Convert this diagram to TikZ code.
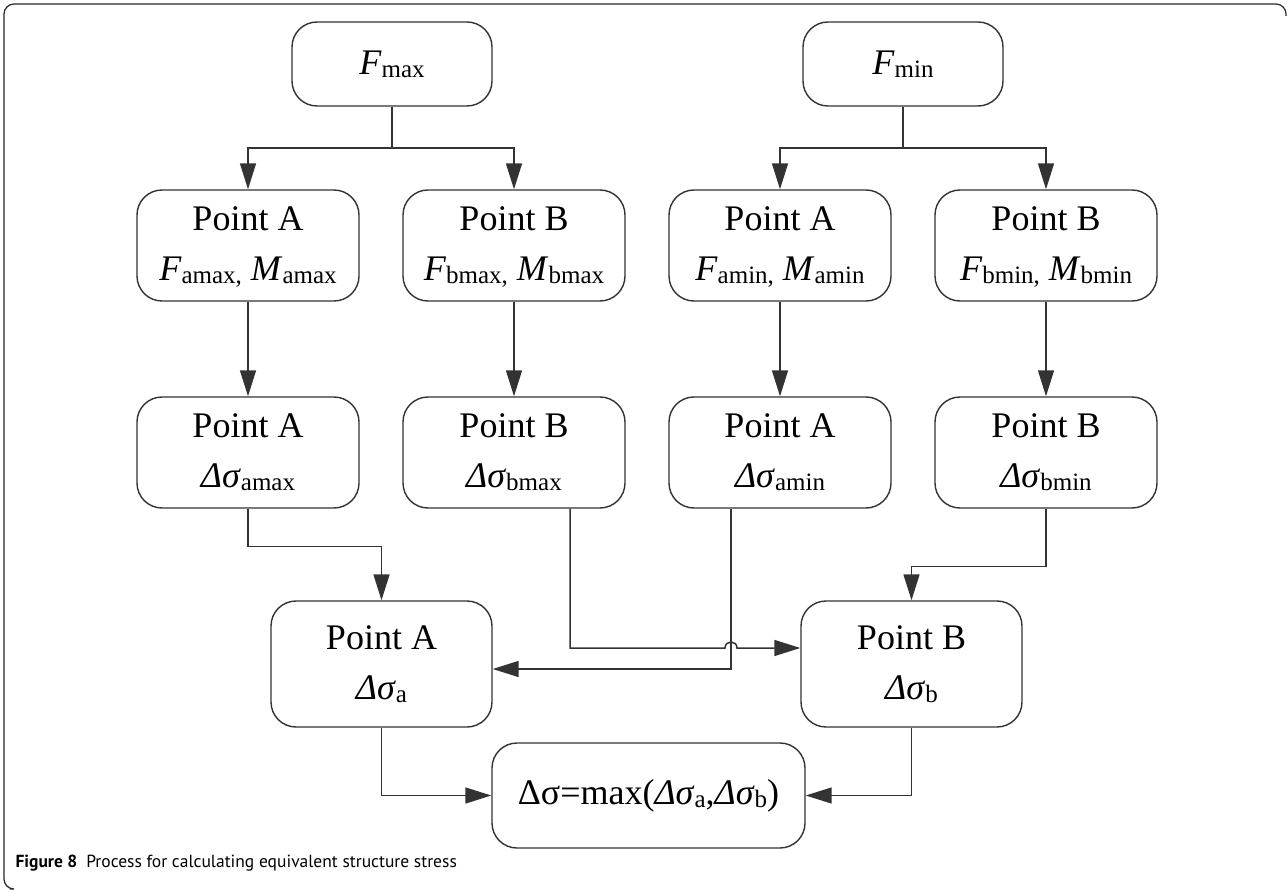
\documentclass[tikz,border=0pt]{standalone}
\usepackage{fontspec}
\setmainfont{Liberation Serif}
\newfontfamily\capfont{PT Sans}
\usetikzlibrary{arrows.meta,calc}
\newcommand{\twoline}[2]{#1\strut\\#2\strut}
\newcommand{\sbs}[1]{\raisebox{-3pt}{\fontsize{25}{25}\selectfont #1}}

\begin{document}
\begin{tikzpicture}[x=1pt,y=-1pt,
  box/.style={draw=black!80,line width=1.4pt,rounded corners=25pt,minimum width=222pt,minimum height=111pt,align=center,inner sep=0pt,font=\fontsize{36}{50}\selectfont},
  topbox/.style={box,minimum width=200pt,minimum height=84pt},
  link/.style={draw=black!80,line width=1.5pt},
  arr/.style={link,-{Triangle[length=26pt,width=16pt]}}]
\useasboundingbox (0,0) rectangle (1288,893);
\draw[black!85,line width=1.2pt,rounded corners=10pt] (1286,16) -- (1286,4) -- (4,4) -- (4,889) -- (10,889);

\node[topbox] (fmax) at (392,64) {\textit{F}\sbs{max}};
\node[topbox] (fmin) at (903,64) {\textit{F}\sbs{min}};

\node[box] (famax) at (248,245.5) {\twoline{Point A}{\textit{F}\sbs{amax,} \textit{M}\sbs{amax}}};
\node[box] (fbmax) at (514,245.5) {\twoline{Point B}{\textit{F}\sbs{bmax,} \textit{M}\sbs{bmax}}};
\node[box] (famin) at (780,245.5) {\twoline{Point A}{\textit{F}\sbs{amin,} \textit{M}\sbs{amin}}};
\node[box] (fbmin) at (1046,245.5) {\twoline{Point B}{\textit{F}\sbs{bmin,} \textit{M}\sbs{bmin}}};

\node[box] (samax) at (248,452.5) {\twoline{Point A}{\textit{Δσ}\sbs{amax}}};
\node[box] (sbmax) at (514,452.5) {\twoline{Point B}{\textit{Δσ}\sbs{bmax}}};
\node[box] (samin) at (780,452.5) {\twoline{Point A}{\textit{Δσ}\sbs{amin}}};
\node[box] (sbmin) at (1046,452.5) {\twoline{Point B}{\textit{Δσ}\sbs{bmin}}};

\node[box,minimum width=221pt,minimum height=126pt] (sa) at (381.5,664) {\twoline{Point A}{\textit{Δσ}\sbs{a}}};
\node[box,minimum width=221pt,minimum height=126pt] (sb) at (911.5,664) {\twoline{Point B}{\textit{Δσ}\sbs{b}}};
\node[box,minimum width=313pt,minimum height=105pt] (dsig) at (648.5,795.5) {Δσ=max(\textit{Δσ}\sbs{a},\textit{Δσ}\sbs{b})};

\coordinate (splitmax) at (392,148);
\coordinate (splitmin) at (903,148);
\coordinate (hop) at (731,648);

\draw[link] (fmax) -- (splitmax);
\draw[arr] (splitmax) -| (famax);
\draw[arr] (splitmax) -| (fbmax);
\draw[link] (fmin) -- (splitmin);
\draw[arr] (splitmin) -| (famin);
\draw[arr] (splitmin) -| (fbmin);

\foreach \a/\b in {famax/samax,fbmax/sbmax,famin/samin,fbmin/sbmin}
  \draw[arr] (\a) -- (\b);

\draw[arr] (samax.south) -- ++(0,38) -| (sa.north);
\draw[arr] (sbmin.south) -- ++(0,58) -| (sb.north);
\draw[arr] ($(sbmax.south)+(56,0)$) |- ($(hop)+(-6,0)$) .. controls ($(hop)+(-6,-8)$) and ($(hop)+(6,-8)$) .. ($(hop)+(6,0)$) -- ($(sb.west)+(0,-16)$);
\draw[arr] ($(samin.south)+(-49,0)$) |- ($(sa.east)+(0,5)$);
\draw[arr] (sa.south) |- (dsig.west);
\draw[arr] (sb.south) |- (dsig.east);

\node[anchor=base west,font=\capfont\fontsize{17.5}{20}\selectfont] (cap) at (12,867) {\textbf{Figure 8}\hspace{9pt}Process for calculating equivalent structure stress};
\end{tikzpicture}
\end{document}
